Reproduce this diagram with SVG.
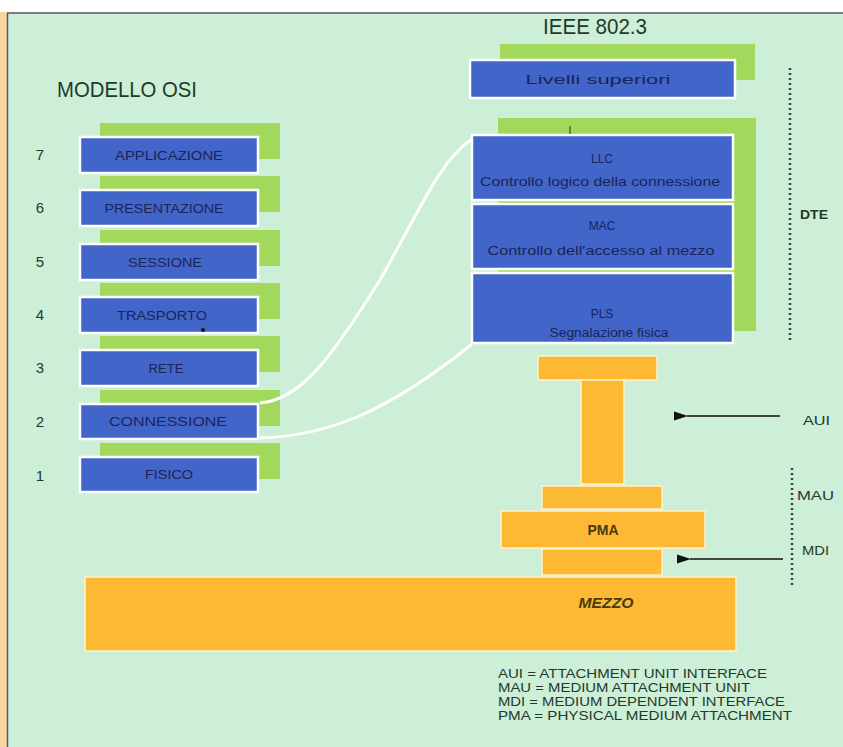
<svg xmlns="http://www.w3.org/2000/svg" width="843" height="747" viewBox="0 0 843 747">
<style>
.bg{fill:#cdeed7}
.sh{fill:#a2d95c}
.bx{fill:#4265c9;stroke:#ffffff;stroke-width:2.5}
.or{fill:#fdb934;stroke:#fff2cc;stroke-width:1.5}
.t{font-family:"Liberation Sans",Arial,sans-serif;fill:#1c2456;font-size:12px;text-anchor:middle}
.n{font-family:"Liberation Sans",Arial,sans-serif;fill:#1f3a2c;font-size:15px;text-anchor:middle}
.h{font-family:"Liberation Sans",Arial,sans-serif;fill:#1f3a2c;font-size:22px}
.lab{font-family:"Liberation Sans",Arial,sans-serif;fill:#1f3a2c;font-size:13px}
.ot{font-family:"Liberation Sans",Arial,sans-serif;fill:#4a3a12;font-size:14px;font-weight:bold;text-anchor:middle}
.cv{fill:none;stroke:#ffffff;stroke-width:3}
.dot{stroke:#2e4a3a;stroke-width:2.5;stroke-dasharray:2 3}
.ar{stroke:#111;stroke-width:1.5;fill:none}
</style>
<defs>
<marker id="ah" markerWidth="14" markerHeight="10" refX="1" refY="5" orient="auto-start-reverse" markerUnits="userSpaceOnUse">
<path d="M0,5 L14,0.5 L14,9.5 Z" fill="#111"/>
</marker>
</defs>
<rect x="0" y="0" width="843" height="747" fill="#ffffff"/>
<rect x="0" y="12" width="7" height="735" fill="#f8d4a0"/>
<rect x="8" y="13" width="835" height="734" class="bg"/>
<line x1="7" y1="13" x2="843" y2="13" stroke="#556" stroke-width="1.5"/>
<line x1="7.5" y1="13" x2="7.5" y2="747" stroke="#556" stroke-width="1.5"/>

<text class="h" x="57" y="97" textLength="140" lengthAdjust="spacingAndGlyphs">MODELLO OSI</text>
<text class="h" x="543" y="34" font-size="24" textLength="104" lengthAdjust="spacingAndGlyphs">IEEE 802.3</text>

<g id="osi7"><rect class="sh" x="100" y="123" width="180" height="36"/><rect class="bx" x="80" y="137" width="178" height="36"/><text class="t" x="169" y="159.5" textLength="108" lengthAdjust="spacingAndGlyphs">APPLICAZIONE</text><text class="n" x="40" y="160">7</text></g>
<g id="osi6"><rect class="sh" x="100" y="176" width="180" height="36"/><rect class="bx" x="80" y="190" width="178" height="36"/><text class="t" x="164" y="212.5" textLength="119" lengthAdjust="spacingAndGlyphs">PRESENTAZIONE</text><text class="n" x="40" y="213">6</text></g>
<g id="osi5"><rect class="sh" x="100" y="230" width="180" height="36"/><rect class="bx" x="80" y="244" width="178" height="36"/><text class="t" x="165" y="266.5" textLength="74" lengthAdjust="spacingAndGlyphs">SESSIONE</text><text class="n" x="40" y="267">5</text></g>
<g id="osi4"><rect class="sh" x="100" y="283" width="180" height="36"/><rect class="bx" x="80" y="297" width="178" height="36"/><text class="t" x="162" y="319.5" textLength="90" lengthAdjust="spacingAndGlyphs">TRASPORTO</text><circle cx="203" cy="330" r="2" fill="#111"/><text class="n" x="40" y="320">4</text></g>
<g id="osi3"><rect class="sh" x="100" y="336" width="180" height="36"/><rect class="bx" x="80" y="350" width="178" height="36"/><text class="t" x="166" y="372.5" textLength="35" lengthAdjust="spacingAndGlyphs">RETE</text><text class="n" x="40" y="373">3</text></g>
<g id="osi2"><rect class="sh" x="100" y="390" width="180" height="36"/><rect class="bx" x="80" y="404" width="178" height="35"/><text class="t" x="168" y="426" textLength="118" lengthAdjust="spacingAndGlyphs">CONNESSIONE</text><text class="n" x="40" y="427">2</text></g>
<g id="osi1"><rect class="sh" x="100" y="443" width="180" height="36"/><rect class="bx" x="80" y="457" width="178" height="35"/><text class="t" x="169" y="479" textLength="48" lengthAdjust="spacingAndGlyphs">FISICO</text><text class="n" x="40" y="481">1</text></g>

<g id="livelli"><rect class="sh" x="500" y="44" width="255" height="36"/><rect class="bx" x="470" y="60" width="265" height="38"/><text class="t" x="598" y="84" font-size="13" textLength="145" lengthAdjust="spacingAndGlyphs">Livelli superiori</text></g>

<rect class="sh" x="498" y="118" width="258" height="213"/>
<g id="llc"><rect class="bx" x="472" y="135" width="261" height="65"/><text class="t" x="602" y="163" font-size="13">LLC</text><text class="t" x="600" y="186" textLength="240" lengthAdjust="spacingAndGlyphs">Controllo logico della connessione</text></g>
<g id="mac"><rect class="bx" x="472" y="204" width="261" height="65"/><text class="t" x="602" y="230" font-size="13">MAC</text><text class="t" x="601" y="255" textLength="227" lengthAdjust="spacingAndGlyphs">Controllo dell'accesso al mezzo</text></g>
<g id="pls"><rect class="bx" x="472" y="273" width="261" height="70"/><text class="t" x="602" y="318" font-size="13">PLS</text><text class="t" x="609" y="337" textLength="119" lengthAdjust="spacingAndGlyphs">Segnalazione fisica</text></g>
<line x1="570" y1="126" x2="570" y2="134" stroke="#222" stroke-width="1"/>

<g id="aui-block"><rect class="or" x="538" y="356" width="119" height="24"/><rect class="or" x="581" y="380" width="43" height="104"/></g>
<g id="mau"><rect class="or" x="542" y="486" width="120" height="23"/></g>
<g id="pma"><rect class="or" x="501" y="511" width="204" height="37"/><text class="ot" x="603" y="535">PMA</text></g>
<g id="mdi-block"><rect class="or" x="542" y="549" width="120" height="26"/></g>
<g id="mezzo"><rect class="or" x="85" y="577" width="651" height="74"/><text class="ot" x="606" y="608" font-style="italic" textLength="55" lengthAdjust="spacingAndGlyphs">MEZZO</text></g>

<g id="connectors">
<path class="cv" d="M260,403 C300,400 330,360 380,280 C420,210 440,160 472,139"/>
<path class="cv" d="M260,438 C330,436 390,410 472,344"/>
<line class="dot" x1="790" y1="68" x2="790" y2="343"/>
<line class="dot" x1="792" y1="468" x2="792" y2="588"/>
<line class="ar" x1="780" y1="416" x2="687" y2="416" marker-end="url(#ah)"/>
<line class="ar" x1="783" y1="559" x2="690" y2="559" marker-end="url(#ah)"/>
</g>

<text class="lab" x="800" y="219" font-weight="bold" textLength="28" lengthAdjust="spacingAndGlyphs">DTE</text>
<text class="lab" x="803" y="425" textLength="27" lengthAdjust="spacingAndGlyphs">AUI</text>
<text class="lab" x="797" y="500" textLength="37" lengthAdjust="spacingAndGlyphs">MAU</text>
<text class="lab" x="802" y="555" textLength="27" lengthAdjust="spacingAndGlyphs">MDI</text>

<g id="legend">
<text class="lab" x="498" y="678" textLength="269" lengthAdjust="spacingAndGlyphs">AUI = ATTACHMENT UNIT INTERFACE</text>
<text class="lab" x="498" y="692" textLength="252" lengthAdjust="spacingAndGlyphs">MAU = MEDIUM ATTACHMENT UNIT</text>
<text class="lab" x="498" y="706" textLength="287" lengthAdjust="spacingAndGlyphs">MDI = MEDIUM DEPENDENT INTERFACE</text>
<text class="lab" x="498" y="720" textLength="294" lengthAdjust="spacingAndGlyphs">PMA = PHYSICAL MEDIUM ATTACHMENT</text>
</g>
</svg>
